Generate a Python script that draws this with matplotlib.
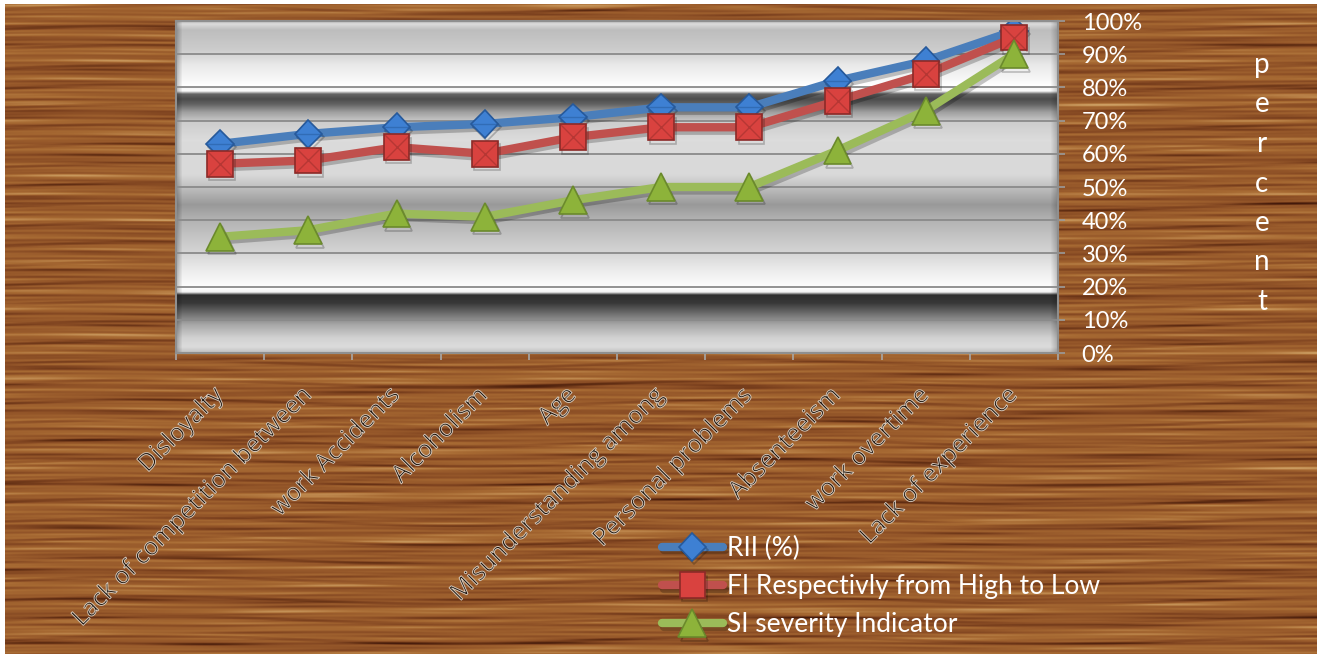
import numpy as np
import matplotlib
matplotlib.use('Agg')
import matplotlib.pyplot as plt
import matplotlib.patheffects as pe
from matplotlib.colors import LinearSegmentedColormap

plt.rcParams['font.family'] = ['Lato', 'DejaVu Sans']

# data
categories = ['Disloyalty', 'Lack of competition between', 'work Accidents', 'Alcoholism', 'Age',
              'Misunderstanding among', 'Personal problems', 'Absenteeism', 'work overtime',
              'Lack of experience']
rii = [63, 66, 68, 69, 71, 74, 74, 82, 88, 97]
fi = [57, 58, 62, 60, 65, 68, 68, 76, 84, 95]
si = [35, 37, 42, 41, 46, 50, 50, 61, 73, 90]
series_names = ['RII (%)', 'FI Respectivly from High to Low', 'SI severity Indicator']
y_ticks = list(range(0, 101, 10))
axis_title = 'percent'

W, H = 1317, 656
fig = plt.figure(figsize=(W / 100, H / 100), dpi=100)
fig.patch.set_facecolor('white')

# wood grain backdrop (decoration only)
bw, bh = 1312, 650
yy, xx = np.mgrid[0:bh, 0:bw].astype(float)
tp = 2 * np.pi
grain = (0.5 * np.sin(tp * yy / 3.7 + 0.8 * np.sin(tp * xx / 260.0))
         + 0.7 * np.sin(tp * yy / 6.1 + 1.1 * np.sin(tp * xx / 410.0 + 1.0))
         + 0.6 * np.sin(tp * yy / 8.9 + 0.7 * np.sin(tp * xx / 330.0 + 2.0))
         + 0.8 * np.sin(tp * yy / 14.3 + 1.3 * np.sin(tp * xx / 520.0 + 0.5))
         + 0.6 * np.sin(tp * yy / 23.0 + 0.9 * np.sin(tp * xx / 700.0 + 2.5))
         + 0.5 * np.sin(tp * yy / 41.0 + tp * xx / 1500.0))
grain *= 1 + 0.3 * np.sin(tp * xx / 180.0 + tp * yy / 90.0)
streak = np.clip(np.sin(tp * yy / 19.7 + 1.2 * np.sin(tp * xx / 600.0)) - 0.8, 0, None)
grain -= 9 * streak
grain = (grain - grain.min()) / (grain.max() - grain.min())
wood_cmap = LinearSegmentedColormap.from_list(
    'wood', ['#42190b', '#643014', '#824621', '#96582a', '#a76a33', '#bb844a', '#cda064'])
bg = fig.add_axes([5 / W, 2 / H, bw / W, bh / H])
bg.imshow(grain, cmap=wood_cmap, aspect='auto', interpolation='bilinear')
bg.axis('off')

# plot area
ax = fig.add_axes([176 / W, 1 - 353 / H, 882 / W, 332 / H])
ax.set_facecolor('none')
x = np.arange(len(categories))
ax.set_xlim(-0.5, len(categories) - 0.5)
ax.set_ylim(0, 100)

# metallic band shading of the plot area (keys are pixel rows of the picture)
ky = [21, 24, 30, 50, 65, 80, 86, 88, 91, 94, 99, 104, 112, 122, 140, 175, 190, 205, 220,
      250, 270, 284, 288, 292, 295, 303, 312, 325, 338, 347, 353]
kg = [0.70, 0.86, 0.74, 0.80, 0.91, 0.97, 1.0, 0.97, 0.98, 0.40, 0.30, 0.38, 0.62, 0.80,
      0.86, 0.85, 0.73, 0.60, 0.70, 0.82, 0.92, 0.98, 1.0, 0.95, 0.18, 0.22, 0.40, 0.66,
      0.82, 0.86, 0.74]
rows = np.arange(21, 353) + 0.5
vprof = np.interp(rows, ky, kg)
hprof = np.ones(882)
hprof[:6] = np.linspace(0.75, 0.95, 6)
hprof[-8:] = np.linspace(1.0, 0.8, 8)
shade = np.clip(vprof[:, None] * hprof[None, :], 0, 1)
ax.imshow(shade, cmap='gray', vmin=0, vmax=1, aspect='auto', zorder=0,
          extent=[-0.5, len(categories) - 0.5, 0, 100], interpolation='bilinear')

ax.set_axisbelow(True)
ax.yaxis.grid(True, color='#8a8a8a', lw=1.3)
for sp in ax.spines.values():
    sp.set_color('#8f8f8f')
    sp.set_linewidth(1.5)

specs = [
    (rii, '#4a7ebb', 'D', 14, '#3e80d3', '#26599b'),
    (fi, '#c0504d', 's', 18.5, '#d9423f', '#8c2a28'),
    (si, '#9bbb59', '^', 20, '#8db33a', '#6b8a2c'),
]
handles = []
for (vals, lc, mk, ms, fc, ec), name in zip(specs, series_names):
    ln, = ax.plot(x, vals, color=lc, lw=6, marker=mk, ms=ms, mfc=fc, mec=ec, mew=1.2,
                  solid_capstyle='round', solid_joinstyle='round', label=name,
                  path_effects=[pe.SimpleLineShadow(offset=(1.5, -2.5), alpha=0.22), pe.Normal()])
    handles.append(ln)
    if mk == 's':
        ax.plot(x, vals, ls='none', marker='x', ms=ms, mec='#8c2a28', mew=1.0, alpha=0.45)
    if mk == 'D':
        ax.plot(x, vals, ls='none', marker='_', ms=ms * 1.3, mec='#26599b', mew=1.0, alpha=0.5)

# right-hand percent axis
ax.yaxis.tick_right()
ax.set_yticks(y_ticks, [f'{v}%' for v in y_ticks])
ax.tick_params(axis='y', direction='out', length=5, width=1.2, color='#9a9a9a',
               labelcolor='white', labelsize=17, pad=12)

# category labels (outlined glyphs), ticks between categories
ax.set_xticks(x, categories)
ax.set_xticks(np.arange(-0.5, len(categories), 1), minor=True)
ax.tick_params(axis='x', which='major', length=0, pad=28)
ax.tick_params(axis='x', which='minor', direction='out', length=5, width=1.2, color='#a8a8a8')
for lab in ax.get_xticklabels():
    lab.set(rotation=45, ha='right', va='center', rotation_mode='anchor',
            family=['Open Sans', 'DejaVu Sans'], fontsize=17.5, color=(0, 0, 0, 0))
    lab.set_path_effects([pe.Stroke(linewidth=0.7, foreground='#e8dfd4', alpha=0.85)])

for i, ch in enumerate(axis_title):
    fig.text(1262 / W, 1 - (73 + 39.5 * i) / H, ch, ha='center', va='baseline',
             color='white', fontsize=20)

fig.legend(handles=handles, loc='upper left', bbox_to_anchor=(662 / W, 1 - 536 / H),
           frameon=False, fontsize=19, labelcolor='white', handlelength=2.3,
           handletextpad=0.15, labelspacing=0.5, borderpad=0, borderaxespad=0)

fig.savefig('out.png', dpi=100)
